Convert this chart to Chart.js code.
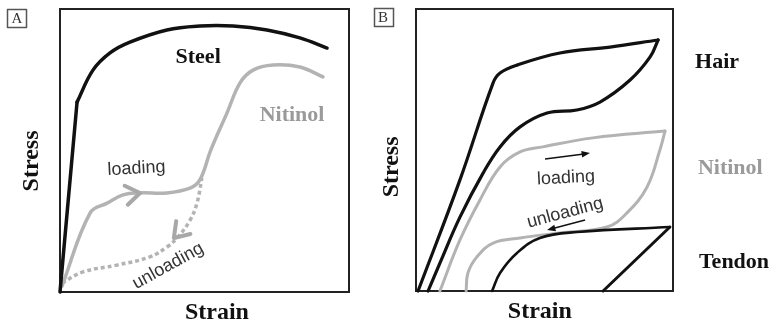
<!DOCTYPE html>
<html>
<head>
<meta charset="utf-8">
<script src="https://cdn.jsdelivr.net/npm/chart.js@4.4.1/dist/chart.umd.min.js"></script>
<style>
  html, body { margin: 0; padding: 0; background: #fff; }
  #wrap { position: relative; width: 774px; height: 327px; overflow: hidden; }
  canvas { position: absolute; top: 0; }
  #panelA { left: 0; }
  #panelB { left: 360px; }
</style>
</head>
<body>
<div id="wrap">
  <canvas id="panelA" width="360" height="327"></canvas>
  <canvas id="panelB" width="414" height="327"></canvas>
</div>
<script>
// ---- Panel A: steel vs. superelastic nitinol (strain / stress, arbitrary units 0-100) ----
const steelElasticStrain = [0, 5.9];
const steelElasticStress = [0, 67.1];
const steelPlasticStrain = [5.9, 11.4, 17.3, 24.2, 37.0, 48.4, 59.9, 71.6, 83.0, 92.4];
const steelPlasticStress = [67.1, 78.4, 84.5, 88.3, 92.6, 94.0, 94.0, 92.6, 89.8, 86.2];

const nitiLoadStrainA = [0.7, 10.4, 16.3, 21.8, 27.7, 37.0, 45.0, 48.4, 52.2, 57.8, 62.3, 66.8, 73.7, 83.0, 91.0];
const nitiLoadStressA = [2.1, 27.9, 31.4, 34.3, 35.0, 35.0, 36.7, 39.6, 50.2, 63.3, 73.9, 78.4, 80.2, 79.5, 76.0];
const nitiUnloadStrainA = [0.7, 8.0, 19.7, 31.1, 37.0, 40.8, 45.0, 47.4, 49.1];
const nitiUnloadStressA = [3.2, 7.1, 9.5, 12.4, 15.9, 19.4, 25.4, 31.4, 40.3];

// ---- Panel B: hair, nitinol and tendon hysteresis loops ----
const hairLoadStrain = [0.8, 17.1, 30.0, 32.7, 39.3, 56.0, 75.5, 94.2];
const hairLoadStress = [0, 39.4, 73.8, 77.3, 80.1, 84.4, 86.5, 89.0];
const hairUnloadStrain = [4.7, 9.3, 17.1, 26.1, 32.7, 40.5, 51.0, 62.6, 71.6, 83.3, 91.1, 94.2];
const hairUnloadStress = [0, 9.9, 26.2, 41.8, 51.1, 58.2, 63.1, 64.2, 67.0, 74.8, 83.0, 89.0];

const nitiLoadStrainB = [9.3, 17.1, 24.9, 32.7, 40.5, 49.4, 68.9, 96.9];
const nitiLoadStressB = [0, 18.1, 32.3, 44.0, 49.3, 51.1, 54.3, 56.7];
const nitiUnloadStrainB = [19.5, 20.2, 23.7, 30.0, 40.5, 56.0, 74.3, 82.1, 89.9, 94.9, 96.9];
const nitiUnloadStressB = [0, 6.4, 12.1, 17.0, 18.8, 20.6, 22.7, 27.7, 36.9, 50.0, 56.7];

const tendonLoadStrain = [29.6, 32.7, 39.3, 48.2, 62.6, 98.8];
const tendonLoadStress = [0, 6.4, 13.5, 18.8, 20.9, 22.7];
const tendonUnloadStrain = [72.8, 98.8];
const tendonUnloadStress = [0, 22.7];

const BLACK = '#111111';
const GREY = '#b3b3b3';
const SERIF = '"Liberation Serif", "Times New Roman", serif';
const SANS = '"Liberation Sans", Arial, sans-serif';

const toPoints = (xs, ys) => xs.map((x, i) => ({ x, y: ys[i] }));

function curve(xs, ys, color, width, extra) {
  return Object.assign({
    data: toPoints(xs, ys),
    borderColor: color,
    borderWidth: width,
    pointRadius: 0,
    fill: false,
    tension: 0.4,
    borderCapStyle: 'round',
    borderJoinStyle: 'round',
    clip: 8
  }, extra || {});
}

// Text, panel tags and arrows placed in data coordinates of the panel's scales
const annotate = {
  id: 'annotate',
  afterDatasetsDraw(chart, args, opts) {
    const { ctx } = chart;
    const sx = chart.scales.x, sy = chart.scales.y;
    const px = v => sx.getPixelForValue(v);
    const py = v => sy.getPixelForValue(v);
    ctx.save();

    (opts.chevrons || []).forEach(a => {
      const tx = px(a.x), ty = py(a.y);
      const fx = px(a.fromX), fy = py(a.fromY);
      const ang = Math.atan2(ty - fy, tx - fx);
      ctx.strokeStyle = a.color;
      ctx.lineWidth = a.width;
      ctx.lineCap = 'round';
      ctx.lineJoin = 'round';
      ctx.beginPath();
      ctx.moveTo(tx - a.len * Math.cos(ang - a.spread), ty - a.len * Math.sin(ang - a.spread));
      ctx.lineTo(tx, ty);
      ctx.lineTo(tx - a.len * Math.cos(ang + a.spread), ty - a.len * Math.sin(ang + a.spread));
      ctx.stroke();
    });

    (opts.arrows || []).forEach(a => {
      const x0 = px(a.fromX), y0 = py(a.fromY), x1 = px(a.x), y1 = py(a.y);
      const ang = Math.atan2(y1 - y0, x1 - x0);
      ctx.strokeStyle = a.color;
      ctx.fillStyle = a.color;
      ctx.lineWidth = a.width;
      ctx.beginPath();
      ctx.moveTo(x0, y0);
      ctx.lineTo(x1 - 6 * Math.cos(ang), y1 - 6 * Math.sin(ang));
      ctx.stroke();
      ctx.beginPath();
      ctx.moveTo(x1, y1);
      ctx.lineTo(x1 - 9 * Math.cos(ang - 0.38), y1 - 9 * Math.sin(ang - 0.38));
      ctx.lineTo(x1 - 9 * Math.cos(ang + 0.38), y1 - 9 * Math.sin(ang + 0.38));
      ctx.closePath();
      ctx.fill();
    });

    (opts.labels || []).forEach(l => {
      ctx.save();
      ctx.translate(px(l.x), py(l.y));
      ctx.rotate((l.rotation || 0) * Math.PI / 180);
      ctx.font = l.font;
      ctx.fillStyle = l.color;
      ctx.textAlign = l.align || 'center';
      ctx.textBaseline = 'middle';
      ctx.fillText(l.text, 0, 0);
      ctx.restore();
    });

    (opts.tags || []).forEach(t => {
      const cx = px(t.x), cy = py(t.y);
      ctx.strokeStyle = '#555';
      ctx.lineWidth = 1.5;
      ctx.strokeRect(Math.round(cx - 9.5) + 0.5, Math.round(cy - 9) + 0.5, 19, 18);
      ctx.font = '15px ' + SERIF;
      ctx.fillStyle = '#333';
      ctx.textAlign = 'center';
      ctx.textBaseline = 'middle';
      ctx.fillText(t.text, cx, cy + 1);
    });

    ctx.restore();
  }
};

function boxScale(position) {
  return {
    type: 'linear',
    position,
    min: 0,
    max: 100,
    ticks: { display: false },
    grid: { display: false, drawTicks: false },
    border: { display: true, color: '#222', width: 2 }
  };
}

function makePanel(id, datasets, padding, annotations) {
  return new Chart(document.getElementById(id), {
    type: 'line',
    data: { datasets },
    options: {
      responsive: false,
      animation: false,
      devicePixelRatio: 1,
      layout: { padding },
      scales: {
        x: boxScale('bottom'),
        y: boxScale('left'),
        x2: boxScale('top'),
        y2: boxScale('right')
      },
      plugins: {
        legend: { display: false },
        tooltip: { enabled: false },
        annotate: annotations
      }
    },
    plugins: [annotate]
  });
}

const labelFont = 'bold 22px ' + SERIF;
const axisFont = 'bold 24px ' + SERIF;
const noteFont = '18px ' + SANS;

makePanel('panelA', [
  curve(steelElasticStrain, steelElasticStress, BLACK, 3.5, { tension: 0 }),
  curve(steelPlasticStrain, steelPlasticStress, BLACK, 3.5),
  curve(nitiLoadStrainA, nitiLoadStressA, GREY, 3.5),
  curve(nitiUnloadStrainA, nitiUnloadStressA, GREY, 3.5, { borderDash: [4, 3], borderCapStyle: 'butt' })
], { left: 60, right: 11, top: 9, bottom: 35 }, {
  chevrons: [
    { x: 27.7, y: 35.0, fromX: 21.8, fromY: 34.0, len: 17, spread: 0.6, width: 4, color: '#a8a8a8' },
    { x: 39.4, y: 19.1, fromX: 45.0, fromY: 25.4, len: 17, spread: 0.6, width: 4, color: '#a8a8a8' }
  ],
  labels: [
    { text: 'Steel', x: 47.8, y: 83.0, font: labelFont, color: BLACK },
    { text: 'Nitinol', x: 80.3, y: 62.5, font: labelFont, color: '#9a9a9a' },
    { text: 'loading', x: 26.5, y: 43.6, font: noteFont, color: '#333', rotation: -3 },
    { text: 'unloading', x: 37.4, y: 9.2, font: noteFont, color: '#333', rotation: -29 },
    { text: 'Stress', x: -9.7, y: 46.3, font: axisFont, color: BLACK, rotation: -90 },
    { text: 'Strain', x: 54.3, y: -7.4, font: axisFont, color: BLACK }
  ],
  tags: [{ text: 'A', x: -14.9, y: 96.8 }]
});

makePanel('panelB', [
  curve(hairLoadStrain, hairLoadStress, BLACK, 3.2),
  curve(hairUnloadStrain, hairUnloadStress, BLACK, 3.2),
  curve(tendonLoadStrain, tendonLoadStress, BLACK, 2.6),
  curve(tendonUnloadStrain, tendonUnloadStress, BLACK, 3, { tension: 0 }),
  curve(nitiLoadStrainB, nitiLoadStressB, GREY, 3),
  curve(nitiUnloadStrainB, nitiUnloadStressB, GREY, 3)
], { left: 56, right: 101, top: 9, bottom: 36 }, {
  arrows: [
    { fromX: 50.2, fromY: 46.8, x: 67.7, y: 48.9, width: 1.5, color: BLACK },
    { fromX: 65.8, fromY: 25.2, x: 51.0, y: 21.6, width: 1.5, color: BLACK }
  ],
  labels: [
    { text: 'Hair', x: 108.6, y: 81.2, font: labelFont, color: BLACK, align: 'left' },
    { text: 'Nitinol', x: 109.7, y: 43.6, font: labelFont, color: '#9a9a9a', align: 'left' },
    { text: 'Tendon', x: 110.1, y: 10.3, font: labelFont, color: BLACK, align: 'left' },
    { text: 'loading', x: 58.4, y: 40.1, font: noteFont, color: '#333', rotation: -3 },
    { text: 'unloading', x: 58.0, y: 27.7, font: noteFont, color: '#333', rotation: -15 },
    { text: 'Stress', x: -9.3, y: 44.0, font: axisFont, color: BLACK, rotation: -90 },
    { text: 'Strain', x: 48.2, y: -7.4, font: axisFont, color: BLACK }
  ],
  tags: [{ text: 'B', x: -12.8, y: 97.0 }]
});
</script>
</body>
</html>
